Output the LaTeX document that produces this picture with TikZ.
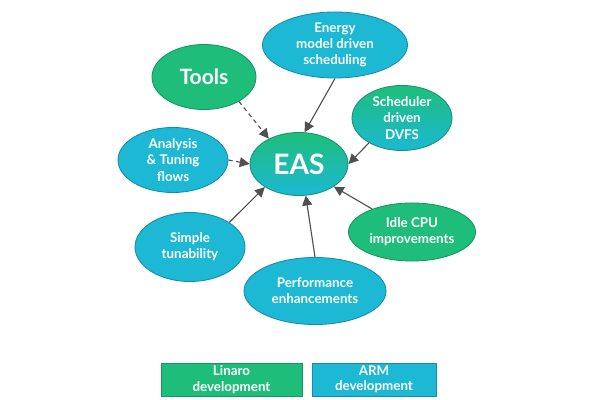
\documentclass[tikz,border=0pt]{standalone}
\usepackage{fontspec}
\setmainfont{Lato}
\usetikzlibrary{shapes.geometric,arrows.meta}
\definecolor{lgreen}{RGB}{30,190,122}
\definecolor{lcyan}{RGB}{28,184,212}
\definecolor{gedge}{RGB}{20,150,95}
\definecolor{cedge}{RGB}{20,140,175}
\definecolor{arr}{RGB}{80,80,80}
\tikzset{
  bub/.style={ellipse,inner sep=0pt,font=\bfseries\fontsize{9.5}{11.5}\selectfont,text=white,align=center,line width=0.6pt},
  gbub/.style={bub,fill=lgreen,draw=gedge},
  cbub/.style={bub,fill=lcyan,draw=cedge},
  mbub/.style={bub,top color=lgreen,bottom color=lcyan,draw=gedge!70!cedge},
  leg/.style={rectangle,inner sep=0pt,font=\bfseries\fontsize{9.5}{11}\selectfont,text=white,align=center,line width=0.6pt},
  con/.style={draw=arr,line width=0.8pt,-{Triangle[length=7pt,width=7pt]}},
  dcon/.style={con,dash pattern=on 3pt off 2.5pt}
}
\begin{document}
\begin{tikzpicture}[x=0.025cm,y=-0.025cm]
\useasboundingbox[fill=white] (0,0) rectangle (600,400);
\node[mbub,minimum width=98\pgflinewidth*0+2.45cm,minimum height=1.575cm,font=\bfseries\fontsize{20}{22}\selectfont] (eas) at (299,164) {EAS};
\node[cbub,minimum width=3.625cm,minimum height=1.65cm] (energy) at (335,45) {Energy\\model driven\\scheduling};
\node[gbub,minimum width=2.6cm,minimum height=1.625cm,font=\bfseries\fontsize{15}{17}\selectfont] (tools) at (204,77) {Tools};
\node[mbub,minimum width=2.5cm,minimum height=1.625cm] (dvfs) at (402,118) {Scheduler\\driven\\DVFS};
\node[cbub,minimum width=2.75cm,minimum height=1.625cm] (analysis) at (173,160) {Analysis\\\& Tuning\\flows};
\node[gbub,minimum width=3.175cm,minimum height=1.45cm] (idle) at (412,232) {Idle CPU\\improvements};
\node[cbub,minimum width=2.75cm,minimum height=1.725cm] (simple) at (190,247) {Simple\\tunability};
\node[cbub,minimum width=3.55cm,minimum height=1.675cm] (perf) at (315,291) {Performance\\enhancements};
\node[leg,fill=lgreen,draw=gedge,minimum width=3.525cm,minimum height=0.825cm] (linaro) at (231.5,379.5) {Linaro\\development};
\node[leg,fill=lcyan,draw=cedge,minimum width=3.1cm,minimum height=0.825cm] (arm) at (374,379.5) {ARM\\development};
\draw[con] (energy.south) -- (eas.80);
\draw[dcon] (tools.-35) -- (eas.140);
\draw[dcon] (analysis.east) -- (eas.west);
\draw[con] (dvfs.217) -- (eas.east);
\draw[con] (idle.150) -- (eas.-33);
\draw[con] (perf.north) -- (eas.-78);
\draw[con] (simple.32) -- (eas.214);
\end{tikzpicture}
\end{document}
